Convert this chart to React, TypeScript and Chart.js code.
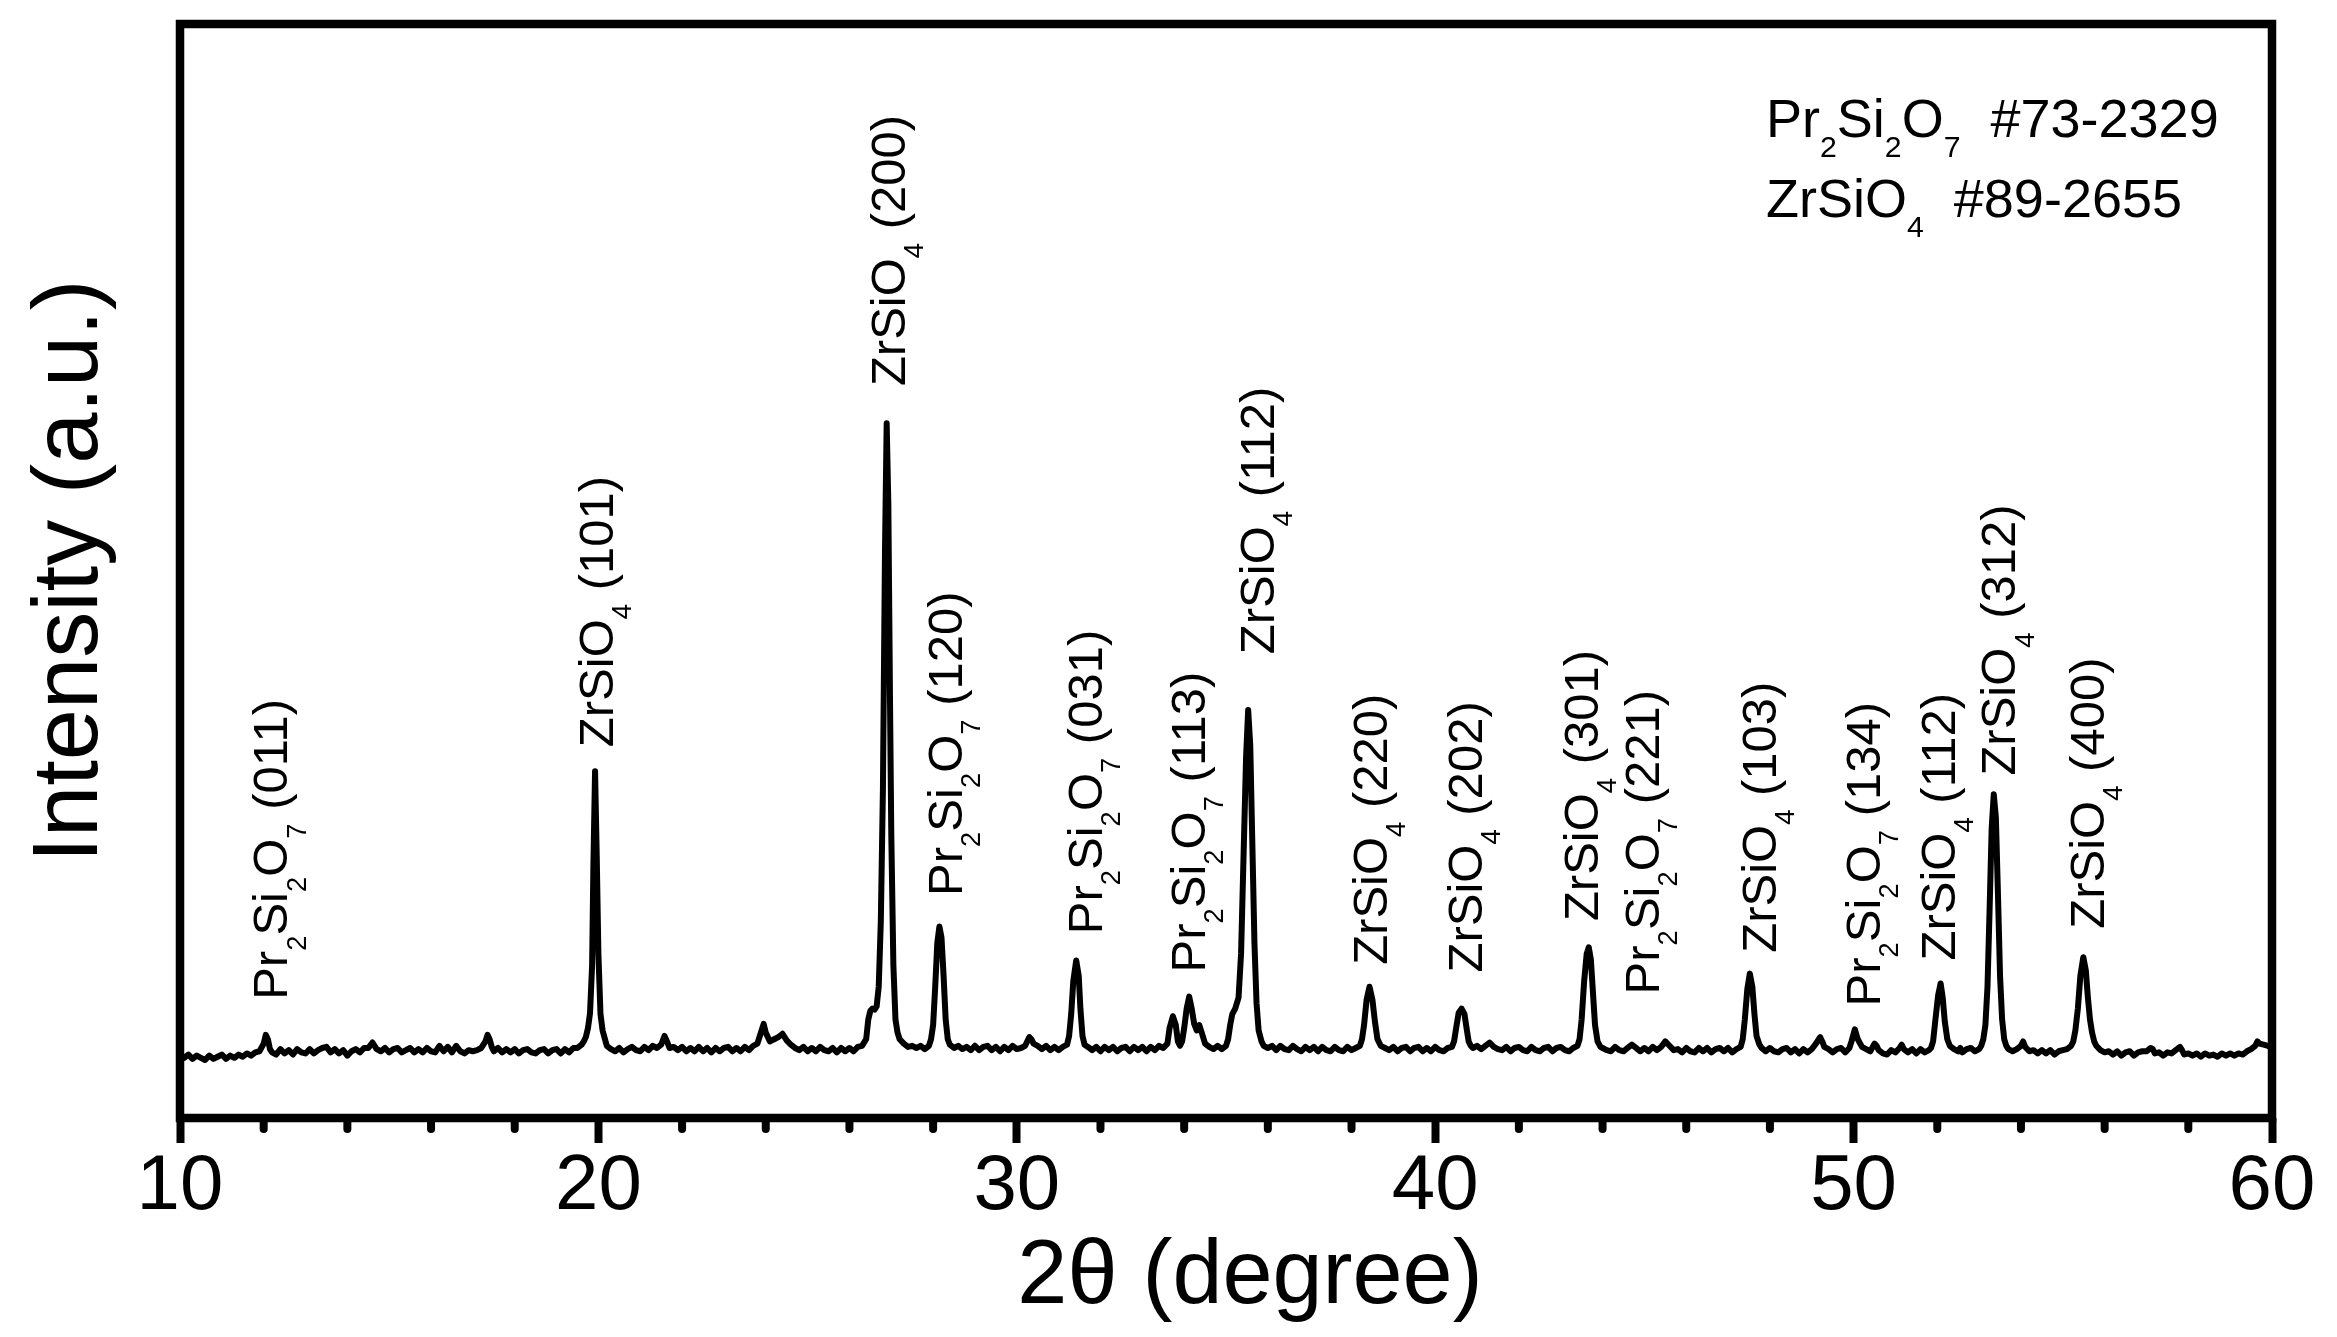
import React, { useEffect, useRef } from "react";
import { Chart, registerables } from "chart.js";

Chart.register(...registerables);

// XRD scan: [2θ (degree), intensity (a.u.)]
const pattern: [number, number][] = [
  [10.0, 58], [10.1, 55], [10.2, 58], [10.3, 54], [10.4, 57], [10.5, 55], [10.6, 53], [10.7, 57], [10.8, 54], [10.9, 56],
  [11.0, 58], [11.1, 54], [11.2, 57], [11.3, 55], [11.4, 58], [11.5, 56], [11.6, 59], [11.7, 57], [11.8, 60], [11.9, 61],
  [12.0, 68], [12.05, 76], [12.1, 72], [12.15, 63], [12.2, 60], [12.3, 58], [12.4, 63], [12.5, 59], [12.6, 62], [12.7, 58],
  [12.8, 63], [12.9, 60], [13.0, 59], [13.1, 63], [13.2, 59], [13.3, 62], [13.4, 64], [13.5, 65], [13.6, 60], [13.7, 63],
  [13.8, 59], [13.9, 62], [14.0, 57], [14.1, 61], [14.2, 63], [14.3, 60], [14.4, 64], [14.5, 64], [14.6, 69], [14.7, 63],
  [14.8, 61], [14.9, 64], [15.0, 60], [15.1, 63], [15.2, 64], [15.3, 60], [15.4, 62], [15.5, 64], [15.6, 60], [15.7, 63],
  [15.8, 60], [15.9, 64], [16.0, 61], [16.1, 60], [16.2, 66], [16.3, 61], [16.4, 65], [16.5, 60], [16.6, 66], [16.7, 61],
  [16.8, 59], [16.9, 62], [17.0, 61], [17.1, 62], [17.2, 64], [17.3, 70], [17.35, 76], [17.4, 72], [17.45, 65], [17.5, 61],
  [17.6, 64], [17.7, 60], [17.8, 63], [17.9, 60], [18.0, 63], [18.1, 59], [18.2, 62], [18.3, 63], [18.4, 60], [18.5, 59],
  [18.6, 62], [18.7, 63], [18.8, 59], [18.9, 62], [19.0, 63], [19.1, 59], [19.2, 63], [19.3, 60], [19.4, 64], [19.5, 64],
  [19.6, 67], [19.65, 70], [19.7, 74], [19.75, 82], [19.8, 96], [19.85, 140], [19.88, 230], [19.92, 317], [19.96, 240], [20.0, 150],
  [20.05, 95], [20.1, 80], [20.15, 73], [20.2, 66], [20.3, 63], [20.4, 61], [20.5, 64], [20.6, 60], [20.7, 63], [20.8, 65],
  [20.9, 62], [21.0, 61], [21.1, 65], [21.2, 62], [21.3, 66], [21.4, 64], [21.5, 67], [21.58, 75], [21.65, 69], [21.7, 64],
  [21.8, 65], [21.9, 62], [22.0, 65], [22.1, 61], [22.2, 64], [22.3, 61], [22.4, 65], [22.5, 61], [22.6, 64], [22.7, 60],
  [22.8, 64], [22.9, 61], [23.0, 64], [23.1, 65], [23.2, 61], [23.3, 64], [23.4, 61], [23.5, 65], [23.6, 62], [23.7, 66],
  [23.8, 68], [23.9, 80], [23.95, 86], [24.0, 78], [24.1, 70], [24.2, 72], [24.3, 74], [24.4, 77], [24.5, 71], [24.6, 67],
  [24.7, 64], [24.8, 62], [24.9, 65], [25.0, 61], [25.1, 64], [25.2, 61], [25.3, 65], [25.4, 62], [25.5, 61], [25.6, 64],
  [25.7, 60], [25.8, 64], [25.9, 61], [26.0, 64], [26.1, 61], [26.2, 65], [26.3, 66], [26.4, 72], [26.45, 90], [26.5, 98],
  [26.55, 100], [26.6, 99], [26.65, 102], [26.7, 120], [26.75, 180], [26.8, 300], [26.85, 520], [26.89, 635], [26.93, 560], [26.97, 380],
  [27.0, 260], [27.05, 140], [27.1, 90], [27.15, 78], [27.2, 72], [27.3, 68], [27.4, 65], [27.5, 66], [27.6, 64], [27.7, 66],
  [27.8, 63], [27.9, 66], [27.95, 72], [28.0, 85], [28.05, 120], [28.1, 160], [28.15, 175], [28.2, 165], [28.25, 130], [28.3, 90],
  [28.35, 72], [28.4, 67], [28.5, 64], [28.6, 66], [28.7, 63], [28.8, 65], [28.9, 62], [29.0, 66], [29.1, 62], [29.2, 65],
  [29.3, 66], [29.4, 62], [29.5, 65], [29.6, 61], [29.7, 65], [29.8, 62], [29.9, 66], [30.0, 63], [30.1, 64], [30.2, 66],
  [30.3, 74], [30.35, 72], [30.4, 68], [30.5, 66], [30.6, 63], [30.7, 66], [30.8, 62], [30.9, 65], [31.0, 62], [31.1, 65],
  [31.2, 67], [31.25, 75], [31.3, 95], [31.35, 125], [31.42, 144], [31.48, 130], [31.52, 100], [31.57, 75], [31.62, 67], [31.7, 65],
  [31.8, 62], [31.9, 65], [32.0, 61], [32.1, 65], [32.2, 62], [32.3, 65], [32.4, 61], [32.5, 64], [32.6, 65], [32.7, 61],
  [32.8, 65], [32.9, 62], [33.0, 65], [33.1, 61], [33.2, 65], [33.3, 62], [33.4, 66], [33.5, 64], [33.6, 68], [33.65, 82],
  [33.73, 93], [33.8, 85], [33.85, 70], [33.9, 66], [33.95, 70], [34.0, 82], [34.06, 100], [34.12, 111], [34.18, 100], [34.24, 86],
  [34.3, 80], [34.36, 85], [34.42, 78], [34.5, 68], [34.6, 65], [34.7, 63], [34.8, 66], [34.9, 63], [35.0, 66], [35.05, 72],
  [35.1, 85], [35.15, 95], [35.22, 100], [35.3, 110], [35.36, 150], [35.42, 240], [35.48, 330], [35.53, 373], [35.58, 340], [35.63, 250],
  [35.68, 160], [35.73, 105], [35.78, 80], [35.85, 70], [35.9, 66], [36.0, 64], [36.1, 66], [36.2, 62], [36.3, 66], [36.4, 63],
  [36.5, 62], [36.6, 66], [36.7, 63], [36.8, 61], [36.9, 65], [37.0, 62], [37.1, 65], [37.2, 61], [37.3, 65], [37.4, 62],
  [37.5, 61], [37.6, 65], [37.7, 62], [37.8, 61], [37.9, 65], [38.0, 62], [38.1, 64], [38.2, 66], [38.25, 72], [38.3, 85],
  [38.36, 108], [38.43, 120], [38.5, 108], [38.56, 88], [38.62, 72], [38.7, 66], [38.8, 64], [38.9, 62], [39.0, 65], [39.1, 61],
  [39.2, 64], [39.3, 65], [39.4, 61], [39.5, 64], [39.6, 65], [39.7, 61], [39.8, 64], [39.9, 61], [40.0, 65], [40.1, 62],
  [40.2, 61], [40.3, 64], [40.4, 65], [40.45, 70], [40.5, 82], [40.56, 96], [40.63, 100], [40.7, 95], [40.75, 82], [40.8, 70],
  [40.85, 66], [40.9, 64], [41.0, 66], [41.1, 63], [41.2, 66], [41.3, 69], [41.4, 65], [41.5, 63], [41.6, 62], [41.7, 65],
  [41.8, 61], [41.9, 64], [42.0, 65], [42.1, 62], [42.2, 61], [42.3, 65], [42.4, 62], [42.5, 61], [42.6, 64], [42.7, 65],
  [42.8, 61], [42.9, 64], [43.0, 65], [43.1, 62], [43.2, 61], [43.3, 64], [43.4, 66], [43.45, 72], [43.5, 90], [43.56, 125],
  [43.62, 150], [43.67, 156], [43.72, 145], [43.77, 115], [43.82, 85], [43.88, 70], [43.95, 65], [44.0, 64], [44.1, 62], [44.2, 61],
  [44.3, 65], [44.4, 62], [44.5, 61], [44.6, 64], [44.7, 67], [44.8, 64], [44.9, 61], [45.0, 64], [45.1, 61], [45.2, 65],
  [45.3, 62], [45.4, 65], [45.5, 70], [45.6, 66], [45.7, 62], [45.8, 63], [45.9, 60], [46.0, 64], [46.1, 61], [46.2, 60],
  [46.3, 64], [46.4, 61], [46.5, 64], [46.6, 60], [46.7, 63], [46.8, 64], [46.9, 61], [47.0, 64], [47.1, 60], [47.2, 63],
  [47.3, 65], [47.35, 72], [47.4, 90], [47.46, 118], [47.52, 132], [47.58, 120], [47.63, 95], [47.68, 75], [47.75, 67], [47.8, 64],
  [47.9, 61], [48.0, 64], [48.1, 61], [48.2, 60], [48.3, 63], [48.4, 64], [48.5, 60], [48.6, 63], [48.7, 59], [48.8, 63],
  [48.9, 60], [49.0, 63], [49.1, 68], [49.2, 74], [49.25, 70], [49.3, 65], [49.4, 63], [49.5, 60], [49.6, 63], [49.7, 64],
  [49.8, 60], [49.9, 64], [49.95, 70], [50.03, 81], [50.1, 72], [50.2, 65], [50.3, 63], [50.4, 61], [50.5, 68], [50.55, 66],
  [50.6, 62], [50.7, 59], [50.8, 58], [50.9, 62], [51.0, 60], [51.1, 64], [51.15, 67], [51.2, 63], [51.3, 60], [51.4, 63],
  [51.5, 59], [51.6, 63], [51.7, 60], [51.8, 62], [51.85, 64], [51.9, 70], [51.95, 88], [52.02, 112], [52.08, 123], [52.13, 110],
  [52.18, 88], [52.24, 72], [52.3, 66], [52.4, 63], [52.5, 61], [52.55, 64], [52.6, 60], [52.7, 63], [52.8, 64], [52.9, 61],
  [53.0, 63], [53.05, 66], [53.1, 72], [53.15, 85], [53.2, 120], [53.25, 190], [53.3, 265], [53.35, 296], [53.4, 275], [53.45, 205],
  [53.5, 130], [53.55, 90], [53.6, 72], [53.65, 66], [53.7, 63], [53.8, 61], [53.9, 63], [54.0, 66], [54.05, 70], [54.1, 65],
  [54.2, 61], [54.3, 62], [54.4, 59], [54.5, 62], [54.6, 59], [54.7, 62], [54.8, 58], [54.9, 61], [55.0, 62], [55.1, 63],
  [55.2, 66], [55.25, 70], [55.3, 80], [55.36, 100], [55.42, 130], [55.49, 147], [55.55, 135], [55.6, 110], [55.65, 90], [55.7, 78],
  [55.75, 70], [55.8, 66], [55.9, 62], [56.0, 60], [56.1, 61], [56.2, 58], [56.3, 61], [56.4, 57], [56.5, 60], [56.6, 61],
  [56.7, 57], [56.8, 60], [56.9, 61], [57.0, 61], [57.1, 64], [57.15, 63], [57.2, 59], [57.3, 60], [57.4, 57], [57.5, 60],
  [57.6, 59], [57.7, 62], [57.8, 65], [57.85, 62], [57.9, 58], [58.0, 59], [58.1, 57], [58.2, 59], [58.3, 56], [58.4, 59],
  [58.5, 57], [58.6, 58], [58.7, 56], [58.8, 59], [58.9, 57], [59.0, 59], [59.1, 57], [59.2, 59], [59.3, 58], [59.4, 61],
  [59.5, 63], [59.6, 66], [59.65, 70], [59.7, 68], [59.8, 67], [59.9, 66], [60.0, 64],
];

// x axis: major ticks carry labels, minor ticks are unlabeled
const xMin = 10;
const xMax = 60;
const majorStep = 10;
const minorTicks = [12, 14, 16, 18, 22, 24, 26, 28, 32, 34, 36, 38, 42, 44, 46, 48, 52, 54, 56, 58];
const xTitle = "2θ (degree)";
const yTitle = "Intensity (a.u.)";

// peak annotations: 2θ position, intensity level where the label starts, phase, reflection
const peakAngles = [12.15, 19.92, 26.9, 28.26, 31.61, 34.08, 35.72, 38.42, 40.69, 43.47, 44.92, 47.73, 50.2, 52.01, 53.45, 55.56];
const peakLabelLevels = [108, 339, 669, 203, 168, 133, 424, 140, 133, 180, 113, 151, 102, 144, 313, 173];
const peakPhases = [
  "Pr2Si2O7", "ZrSiO4", "ZrSiO4", "Pr2Si2O7", "Pr2Si2O7", "Pr2Si2O7", "ZrSiO4", "ZrSiO4",
  "ZrSiO4", "ZrSiO4", "Pr2Si2O7", "ZrSiO4", "Pr2Si2O7", "ZrSiO4", "ZrSiO4", "ZrSiO4",
];
const peakHkl = [
  "(011)", "(101)", "(200)", "(120)", "(031)", "(113)", "(112)", "(220)",
  "(202)", "(301)", "(221)", "(103)", "(134)", "(112)", "(312)", "(400)",
];

// reference cards (top-right key)
const refPhases = ["Pr2Si2O7", "ZrSiO4"];
const refCards = ["#73-2329", "#89-2655"];

const FONT = '"Liberation Sans", Arial, Helvetica, sans-serif';

type Part = { t: string; sub: boolean };

function formulaParts(formula: string): Part[] {
  return formula
    .split(/(\d+)/)
    .filter((s) => s.length > 0)
    .map((s) => ({ t: s, sub: /^\d+$/.test(s) }));
}

function drawRich(ctx: CanvasRenderingContext2D, parts: Part[], size: number) {
  let x = 0;
  for (const p of parts) {
    const fs = p.sub ? size * 0.56 : size;
    ctx.font = `${fs}px ${FONT}`;
    ctx.fillText(p.t, x, p.sub ? size * 0.37 : 0);
    x += ctx.measureText(p.t).width;
  }
  return x;
}

const decorPlugin = {
  id: "xrdDecor",
  afterDatasetsDraw(chart: any) {
    const { ctx, scales, chartArea } = chart;
    const xs = scales.x;
    const ys = scales.y;
    ctx.save();
    ctx.fillStyle = "#000";
    ctx.textAlign = "left";
    ctx.textBaseline = "alphabetic";

    // rotated peak labels
    const S = 49;
    peakAngles.forEach((a, i) => {
      const px = xs.getPixelForValue(a);
      const py = ys.getPixelForValue(peakLabelLevels[i]);
      ctx.save();
      ctx.translate(px, py);
      ctx.rotate(-Math.PI / 2);
      ctx.translate(0, (S * 0.716) / 2);
      drawRich(ctx, [...formulaParts(peakPhases[i]), { t: " " + peakHkl[i], sub: false }], S);
      ctx.restore();
    });

    // reference key
    const LS = 54;
    refPhases.forEach((ph, i) => {
      ctx.save();
      ctx.translate(chartArea.right - 506, chartArea.top + 113 + i * 80);
      drawRich(ctx, [...formulaParts(ph), { t: "  " + refCards[i], sub: false }], LS);
      ctx.restore();
    });
    ctx.restore();
  },
  afterDraw(chart: any) {
    const { ctx, chartArea, scales } = chart;
    const xs = scales.x;
    ctx.save();
    ctx.strokeStyle = "#000";
    // minor ticks
    ctx.lineWidth = 8;
    ctx.lineCap = "round";
    minorTicks.forEach((v) => {
      const px = xs.getPixelForValue(v);
      ctx.beginPath();
      ctx.moveTo(px, chartArea.bottom);
      ctx.lineTo(px, chartArea.bottom + 11);
      ctx.stroke();
    });
    // frame
    ctx.lineCap = "butt";
    ctx.lineJoin = "miter";
    ctx.lineWidth = 8.5;
    ctx.strokeRect(chartArea.left, chartArea.top, chartArea.right - chartArea.left, chartArea.bottom - chartArea.top);
    // x axis title
    ctx.fillStyle = "#000";
    ctx.font = `90px ${FONT}`;
    ctx.textAlign = "center";
    ctx.textBaseline = "middle";
    ctx.fillText(xTitle, (chartArea.left + chartArea.right) / 2 + 24, chartArea.bottom + 160);
    ctx.restore();
  },
};

export default function App() {
  const canvasRef = useRef<HTMLCanvasElement | null>(null);

  useEffect(() => {
    const canvas = canvasRef.current;
    if (!canvas) return;
    const chart = new Chart(canvas, {
      type: "line",
      data: {
        datasets: [
          {
            data: pattern.map(([x, y]) => ({ x, y })),
            borderColor: "#000",
            borderWidth: 6,
            pointRadius: 0,
            tension: 0,
            borderJoinStyle: "round",
            borderCapStyle: "round",
            fill: false,
          },
        ],
      },
      options: {
        animation: false,
        responsive: false,
        devicePixelRatio: 1,
        events: [],
        layout: { padding: { left: 0, right: 65, top: 24, bottom: 0 } },
        plugins: { legend: { display: false }, tooltip: { enabled: false } },
        scales: {
          x: {
            type: "linear",
            min: xMin,
            max: xMax,
            afterFit: (s: any) => {
              s.height = 219;
            },
            border: { display: false },
            grid: {
              display: true,
              drawOnChartArea: false,
              drawTicks: true,
              tickLength: 25,
              tickWidth: 8,
              tickColor: "#000",
            },
            ticks: {
              stepSize: majorStep,
              autoSkip: false,
              maxRotation: 0,
              color: "#000",
              padding: 0,
              font: { family: FONT, size: 78, lineHeight: 1.14 },
            },
            title: { display: false },
          },
          y: {
            type: "linear",
            min: 0,
            max: 1000,
            afterFit: (s: any) => {
              s.width = 180;
            },
            border: { display: false },
            grid: { display: false },
            ticks: { display: false },
            title: {
              display: true,
              text: yTitle,
              color: "#000",
              font: { family: FONT, size: 92, lineHeight: 1.2 },
              padding: { top: 16, bottom: 0 },
            },
          },
        },
      },
      plugins: [decorPlugin],
    } as any);
    return () => chart.destroy();
  }, []);

  return (
    <div style={{ position: "fixed", left: 0, top: 0, width: 2337, height: 1337, background: "#fff" }}>
      <canvas ref={canvasRef} width={2337} height={1337} style={{ display: "block", width: 2337, height: 1337 }} />
    </div>
  );
}
